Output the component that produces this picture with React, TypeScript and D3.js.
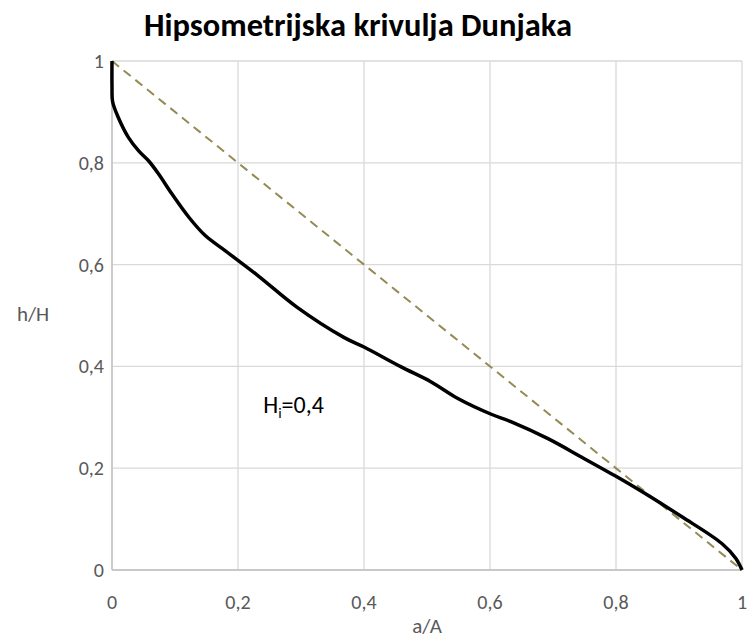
import { useEffect, useRef } from 'react';
import * as d3 from 'd3';

const WIDTH = 748;
const HEIGHT = 641;
const MARGIN = { top: 61, right: 6, bottom: 71, left: 112 };

// hypsometric curve (a/A, h/H)
const curveX = [
  0, 0, 0.001, 0.01, 0.026, 0.042, 0.058, 0.074, 0.095, 0.122, 0.148, 0.18, 0.232, 0.294,
  0.368, 0.4, 0.459, 0.506, 0.549, 0.602, 0.634, 0.692, 0.745, 0.8, 0.841, 0.904, 0.968,
  0.99, 1,
];
const curveY = [
  1, 0.95, 0.92, 0.889, 0.85, 0.824, 0.804, 0.778, 0.739, 0.693, 0.657, 0.627, 0.578, 0.516,
  0.457, 0.438, 0.399, 0.37, 0.337, 0.306, 0.291, 0.258, 0.222, 0.184, 0.154, 0.105, 0.052,
  0.023, 0,
];
const refX = [0, 1];
const refY = [1, 0];
const ticks = [0, 0.2, 0.4, 0.6, 0.8, 1];

const fmt = (v: number) => String(v).replace('.', ',');

export default function App() {
  const svgRef = useRef<SVGSVGElement>(null);

  useEffect(() => {
    if (!svgRef.current) return;
    const svg = d3.select(svgRef.current);
    svg.selectAll('*').remove();

    const innerWidth = WIDTH - MARGIN.left - MARGIN.right;
    const innerHeight = HEIGHT - MARGIN.top - MARGIN.bottom;
    const x = d3.scaleLinear().domain([0, 1]).range([0, innerWidth]);
    const y = d3.scaleLinear().domain([0, 1]).range([innerHeight, 0]);

    const g = svg.append('g').attr('transform', `translate(${MARGIN.left},${MARGIN.top})`);
    const font = 'Carlito, Lato, sans-serif';

    // grid
    g.selectAll('line.vg')
      .data(ticks)
      .join('line')
      .attr('x1', (d) => x(d))
      .attr('x2', (d) => x(d))
      .attr('y1', 0)
      .attr('y2', innerHeight)
      .attr('stroke', '#d9d9d9')
      .attr('stroke-width', 1.3);
    g.selectAll('line.hg')
      .data(ticks)
      .join('line')
      .attr('x1', 0)
      .attr('x2', innerWidth)
      .attr('y1', (d) => y(d))
      .attr('y2', (d) => y(d))
      .attr('stroke', '#d9d9d9')
      .attr('stroke-width', 1.3);

    // axis lines
    g.append('line')
      .attr('x1', 0).attr('x2', 0).attr('y1', 0).attr('y2', innerHeight)
      .attr('stroke', '#bfbfbf').attr('stroke-width', 1.3);
    g.append('line')
      .attr('x1', 0).attr('x2', innerWidth).attr('y1', innerHeight).attr('y2', innerHeight)
      .attr('stroke', '#bfbfbf').attr('stroke-width', 1.3);

    // tick labels
    g.selectAll('text.xt')
      .data(ticks)
      .join('text')
      .attr('x', (d) => x(d))
      .attr('y', innerHeight + 39)
      .attr('text-anchor', 'middle')
      .attr('font-family', font)
      .attr('font-size', 20)
      .attr('fill', '#595959')
      .text(fmt);
    g.selectAll('text.yt')
      .data(ticks)
      .join('text')
      .attr('x', -8)
      .attr('y', (d) => y(d) + 7)
      .attr('text-anchor', 'end')
      .attr('font-family', font)
      .attr('font-size', 20)
      .attr('fill', '#595959')
      .text(fmt);

    // axis titles
    svg.append('text')
      .attr('x', 427)
      .attr('y', 633)
      .attr('text-anchor', 'middle')
      .attr('font-family', font)
      .attr('font-size', 21)
      .attr('fill', '#595959')
      .text('a/A');
    svg.append('text')
      .attr('x', 33)
      .attr('y', 321)
      .attr('text-anchor', 'middle')
      .attr('font-family', font)
      .attr('font-size', 21)
      .attr('fill', '#595959')
      .text('h/H');

    // title
    svg.append('text')
      .attr('x', 358)
      .attr('y', 36)
      .attr('text-anchor', 'middle')
      .attr('font-family', font)
      .attr('font-weight', 'bold')
      .attr('font-size', 32.5)
      .attr('fill', '#000')
      .text('Hipsometrijska krivulja Dunjaka');

    // reference diagonal
    const ref = refX.map((v, i) => [v, refY[i]] as [number, number]);
    g.append('path')
      .datum(ref)
      .attr('d', d3.line<[number, number]>().x((d) => x(d[0])).y((d) => y(d[1])))
      .attr('fill', 'none')
      .attr('stroke', '#948a54')
      .attr('stroke-width', 2)
      .attr('stroke-dasharray', '9,6');

    // hypsometric curve
    const pts = curveX.map((v, i) => [v, curveY[i]] as [number, number]);
    g.append('path')
      .datum(pts)
      .attr(
        'd',
        d3
          .line<[number, number]>()
          .x((d) => x(d[0]))
          .y((d) => y(d[1]))
          .curve(d3.curveCatmullRom.alpha(0.5)),
      )
      .attr('fill', 'none')
      .attr('stroke', '#000')
      .attr('stroke-width', 3.5)
      .attr('stroke-linejoin', 'round');

    // annotation
    const ann = g.append('text')
      .attr('x', x(0.24))
      .attr('y', y(0.4) + 47)
      .attr('font-family', font)
      .attr('font-size', 24)
      .attr('fill', '#000');
    ann.append('tspan').text('H');
    ann.append('tspan').attr('font-size', 15).attr('dy', 5).text('i');
    ann.append('tspan').attr('dy', -5).text('=0,4');
  }, []);

  return (
    <div style={{ position: 'absolute', left: 0, top: 0, background: '#fff' }}>
      <svg ref={svgRef} width={WIDTH} height={HEIGHT} viewBox={`0 0 ${WIDTH} ${HEIGHT}`} />
    </div>
  );
}
